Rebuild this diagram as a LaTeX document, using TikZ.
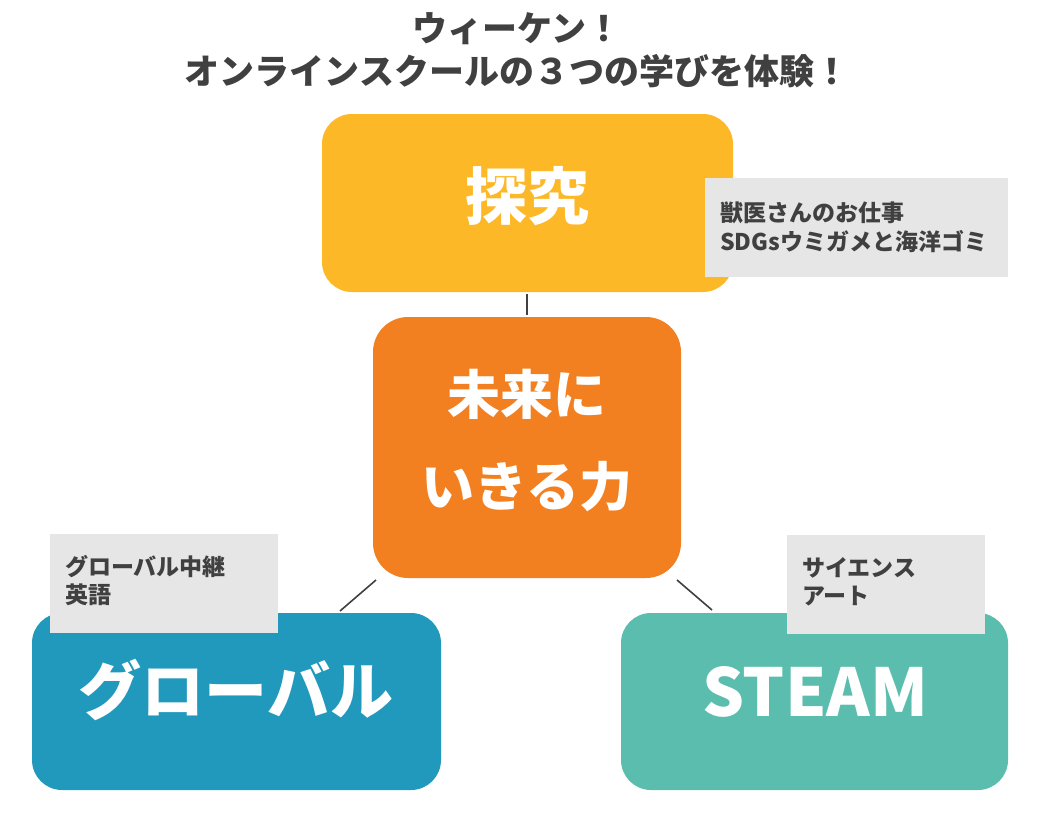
\documentclass[tikz,border=0pt]{standalone}
\usepackage{fontspec}
\setmainfont{Noto Sans CJK JP}
\definecolor{txt}{HTML}{404040}
\definecolor{gbox}{HTML}{E6E6E6}
\definecolor{cyel}{HTML}{FDB827}
\definecolor{corg}{HTML}{F28020}
\definecolor{cblu}{HTML}{2199BD}
\definecolor{cteal}{HTML}{5BBDAD}
\begin{document}
\begin{tikzpicture}[x=1pt,y=-1pt,
  note/.style={fill=gbox,inner sep=0pt},
  notetext/.style={text=txt,font=\bfseries\fontsize{23}{28.5}\selectfont,align=left,anchor=north west,inner sep=0pt},
  bigtext/.style={text=white,font=\bfseries\fontsize{62}{72}\selectfont,align=center},
  frame/.style={inner sep=0pt},
  link/.style={draw=txt,line width=1.6pt},
  ttl/.style={text=txt,font=\bfseries\fontsize{35}{43}\selectfont,align=center}]
\useasboundingbox (0,0) rectangle (1037,820);
% title
\node[ttl] (title) at (517,50) {ウィーケン！\\オンラインスクールの３つの学びを体験！};
% big boxes
\path[fill=cyel,rounded corners=30pt] (322,114) rectangle (733,292);
\node[frame,minimum width=411pt,minimum height=178pt] (tan) at (527.5,203) {};
\node[bigtext] (tant) at (527.5,196) {探究};
\path[fill=corg,rounded corners=35pt] (373,317) rectangle (681,578);
\node[frame,minimum width=308pt,minimum height=261pt] (mir) at (527,447.5) {};
\node[bigtext,font=\bfseries\fontsize{53}{92}\selectfont] (mirt) at (527,440) {未来に\\いきる力};
\path[fill=cblu,rounded corners=30pt] (32,613) rectangle (441,790);
\node[frame,minimum width=409pt,minimum height=177pt] (glo) at (236.5,701.5) {};
\node[bigtext,font=\bfseries\fontsize{63}{72}\selectfont] (glot) at (236,690) {グローバル};
\path[fill=cteal,rounded corners=30pt] (621,613) rectangle (1008,790);
\node[frame,minimum width=387pt,minimum height=177pt] (ste) at (814.5,701.5) {};
\node[bigtext,font=\bfseries\fontsize{66}{72}\selectfont] (stet) at (815,692) {STEAM};
% notes
\node[note,minimum width=303pt,minimum height=99pt,anchor=north west] (n1) at (705,178) {};
\node[notetext] (n1t) at (720,202) {獣医さんのお仕事\\SDGsウミガメと海洋ゴミ};
\node[note,minimum width=228pt,minimum height=99pt,anchor=north west] (n2) at (50,534) {};
\node[notetext] (n2t) at (65,555) {グローバル中継\\英語};
\node[note,minimum width=198pt,minimum height=99pt,anchor=north west] (n3) at (787,535) {};
\node[notetext] (n3t) at (802,557) {サイエンス\\アート};
% connectors
\coordinate (a1) at (527,294); \coordinate (a2) at (527,315);
\coordinate (b1) at (376,580); \coordinate (b2) at (340,611);
\coordinate (c1) at (677,580); \coordinate (c2) at (712,610);
\draw[link] (a1) -- (a2);
\draw[link] (b1) -- (b2);
\draw[link] (c1) -- (c2);
\end{tikzpicture}
\end{document}
